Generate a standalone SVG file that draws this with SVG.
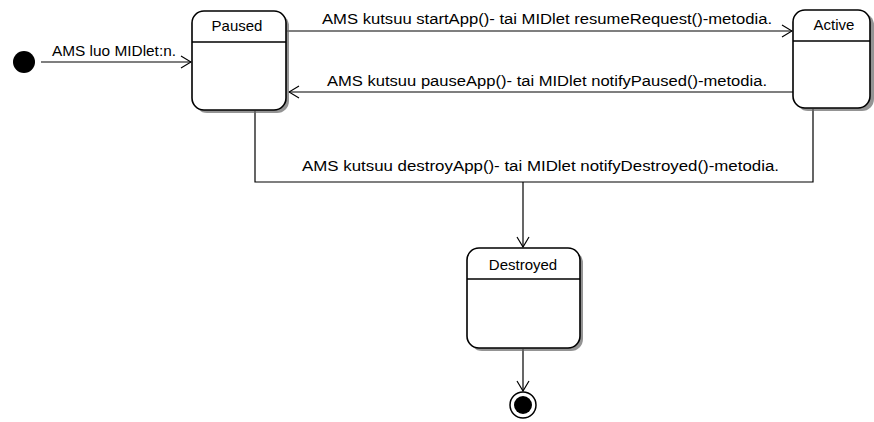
<svg xmlns="http://www.w3.org/2000/svg" width="874" height="422" viewBox="0 0 874 422">
<style>
.st{fill:#fff;stroke:#000;stroke-width:1.6}
.sh{fill:#666;opacity:0.7}
.dv{stroke:#000;stroke-width:1.3}
.ln{fill:none;stroke:#000;stroke-width:1.2}
.t{font-family:"Liberation Sans",Arial,sans-serif;font-size:14px;fill:#000}
.nm{font-family:"Liberation Sans",Arial,sans-serif;font-size:15px;fill:#000;text-anchor:middle}
</style>
<defs>
<marker id="ah" markerWidth="12" markerHeight="14" refX="11" refY="7" orient="auto" markerUnits="userSpaceOnUse">
<path d="M1,1 L11,7 L1,13" fill="none" stroke="#000" stroke-width="1.2"/>
</marker>
</defs>
<rect width="874" height="422" fill="#fff"/>
<g id="connectors">
<line class="ln" x1="41" y1="62" x2="191" y2="62" marker-end="url(#ah)"/>
<text class="t" x="52" y="56" textLength="124" lengthAdjust="spacingAndGlyphs">AMS luo MIDlet:n.</text>
<line class="ln" x1="287" y1="31" x2="792" y2="31" marker-end="url(#ah)"/>
<text class="t" x="322" y="24" textLength="450" lengthAdjust="spacingAndGlyphs">AMS kutsuu startApp()- tai MIDlet resumeRequest()-metodia.</text>
<line class="ln" x1="793" y1="92" x2="289" y2="92" marker-end="url(#ah)"/>
<text class="t" x="327" y="86" textLength="440" lengthAdjust="spacingAndGlyphs">AMS kutsuu pauseApp()- tai MIDlet notifyPaused()-metodia.</text>
<polyline class="ln" points="255,111 255,182 813,182 813,109"/>
<line class="ln" x1="523" y1="182" x2="523" y2="247" marker-end="url(#ah)"/>
<text class="t" x="302" y="171" textLength="477" lengthAdjust="spacingAndGlyphs">AMS kutsuu destroyApp()- tai MIDlet notifyDestroyed()-metodia.</text>
<line class="ln" x1="523" y1="349" x2="523" y2="391" marker-end="url(#ah)"/>
</g>
<g id="initial">
<circle cx="24" cy="62" r="11" fill="#000"/>
</g>
<g id="paused">
<rect class="sh" x="195" y="14" width="94" height="99" rx="12"/>
<rect class="st" x="192" y="11" width="94" height="99" rx="12"/>
<line class="dv" x1="192" y1="42" x2="286" y2="42"/>
<text class="nm" x="237" y="31">Paused</text>
</g>
<g id="active">
<rect class="sh" x="796" y="13" width="78" height="98" rx="12"/>
<rect class="st" x="793" y="10" width="77" height="98" rx="12"/>
<line class="dv" x1="793" y1="41" x2="870" y2="41"/>
<text class="nm" x="834" y="30">Active</text>
</g>
<g id="destroyed">
<rect class="sh" x="470" y="251" width="113" height="100" rx="12"/>
<rect class="st" x="467" y="248" width="113" height="100" rx="12"/>
<line class="dv" x1="467" y1="279" x2="580" y2="279"/>
<text class="nm" x="523" y="270">Destroyed</text>
</g>
<g id="final">
<circle cx="523" cy="405" r="13" fill="#fff" stroke="#000" stroke-width="1.5"/>
<circle cx="523" cy="405" r="9" fill="#000"/>
</g>
</svg>
